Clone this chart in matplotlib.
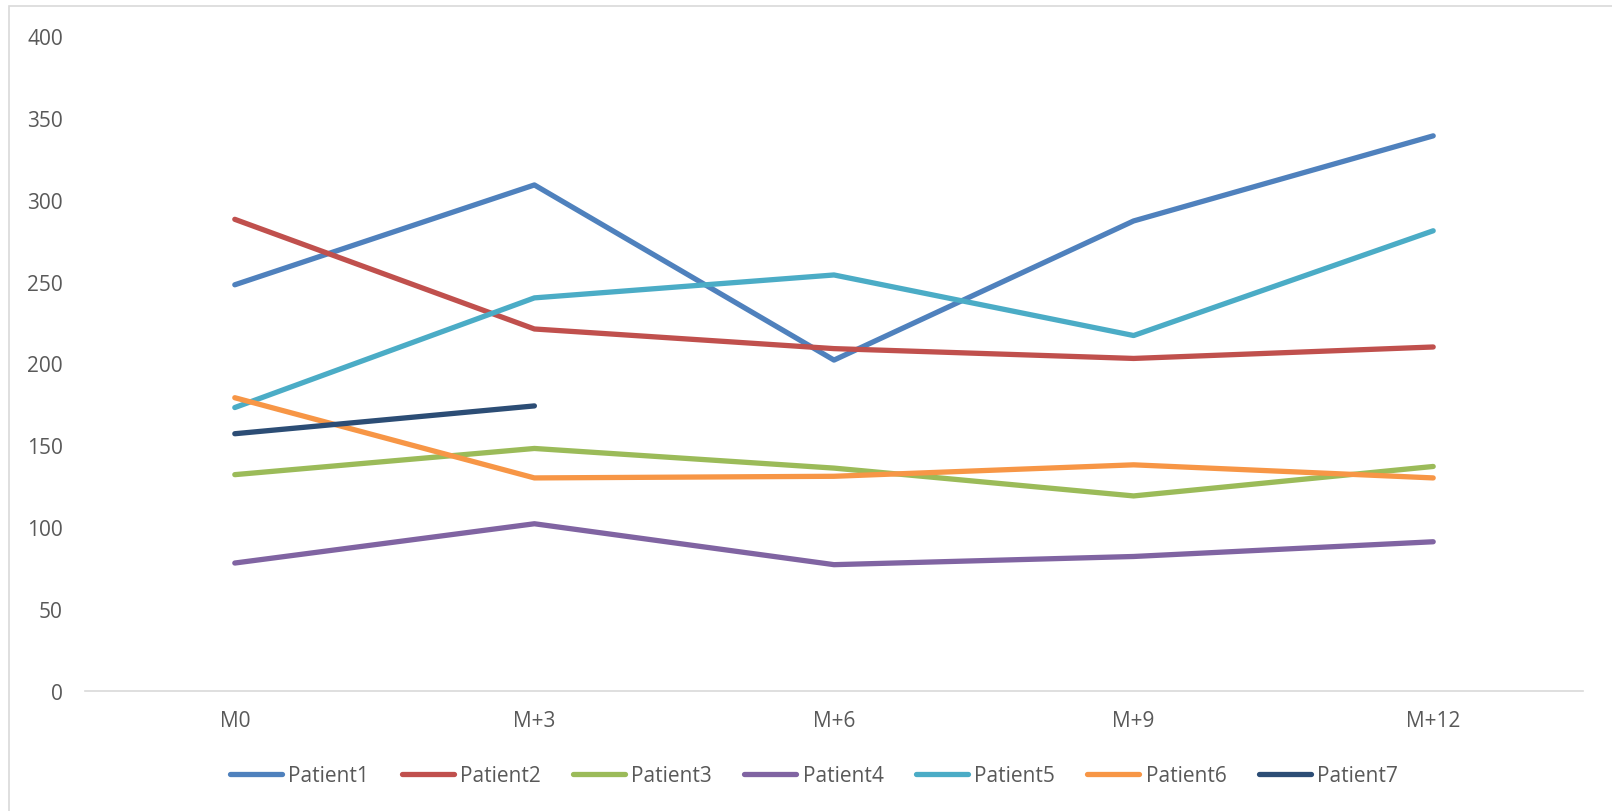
import matplotlib
matplotlib.use("Agg")
import matplotlib.pyplot as plt
from matplotlib.patches import Rectangle

months = ["M0", "M+3", "M+6", "M+9", "M+12"]

patient1 = [248, 309, 202, 287, 339]
patient2 = [288, 221, 209, 203, 210]
patient3 = [132, 148, 136, 119, 137]
patient4 = [78, 102, 77, 82, 91]
patient5 = [173, 240, 254, 217, 281]
patient6 = [179, 130, 131, 138, 130]
patient7 = [157, 174]

names = ["Patient1", "Patient2", "Patient3", "Patient4", "Patient5", "Patient6", "Patient7"]
colors = ["#4F81BD", "#C0504D", "#9BBB59", "#8064A2", "#4BACC6", "#F79646", "#2C4D75"]

plt.rcParams["font.family"] = ["Open Sans", "DejaVu Sans"]

fig = plt.figure(figsize=(16.12, 8.12), dpi=100)
ax = fig.add_axes([85 / 1612, 1 - 691.7 / 812, 1498 / 1612, 654.7 / 812])

series = [patient1, patient2, patient3, patient4, patient5, patient6, patient7]
for vals, name, c in zip(series, names, colors):
    ax.plot(range(len(vals)), vals, color=c, linewidth=3.8, label=name,
            solid_capstyle="round")

ax.set_xlim(-0.5, 4.5)
ax.set_ylim(0, 400)
ax.set_yticks(range(0, 401, 50))
ax.set_xticks(range(len(months)))
ax.set_xticklabels(months)

for s in ["top", "right", "left"]:
    ax.spines[s].set_visible(False)
ax.spines["bottom"].set_color("#D9D9D9")
ax.spines["bottom"].set_linewidth(1.2)
ax.tick_params(axis="both", length=0, labelsize=15, labelcolor="#595959")
ax.tick_params(axis="y", pad=16)
ax.tick_params(axis="x", pad=14)

leg = fig.legend(loc="center", bbox_to_anchor=(814 / 1612, 1 - 777 / 812), ncol=7,
                 frameon=False, fontsize=15, handlelength=2.5, handletextpad=0.3,
                 columnspacing=1.55)
for t in leg.get_texts():
    t.set_color("#595959")
for h in leg.get_lines():
    h.set_linewidth(3.8)
    h.set_solid_capstyle("round")

fig.patches.append(Rectangle((9 / 1612, -0.1), 2, 1.1 - 7 / 812, transform=fig.transFigure,
                             fill=False, edgecolor="#D9D9D9", linewidth=1.2))

fig.savefig("out.png", dpi=100)
